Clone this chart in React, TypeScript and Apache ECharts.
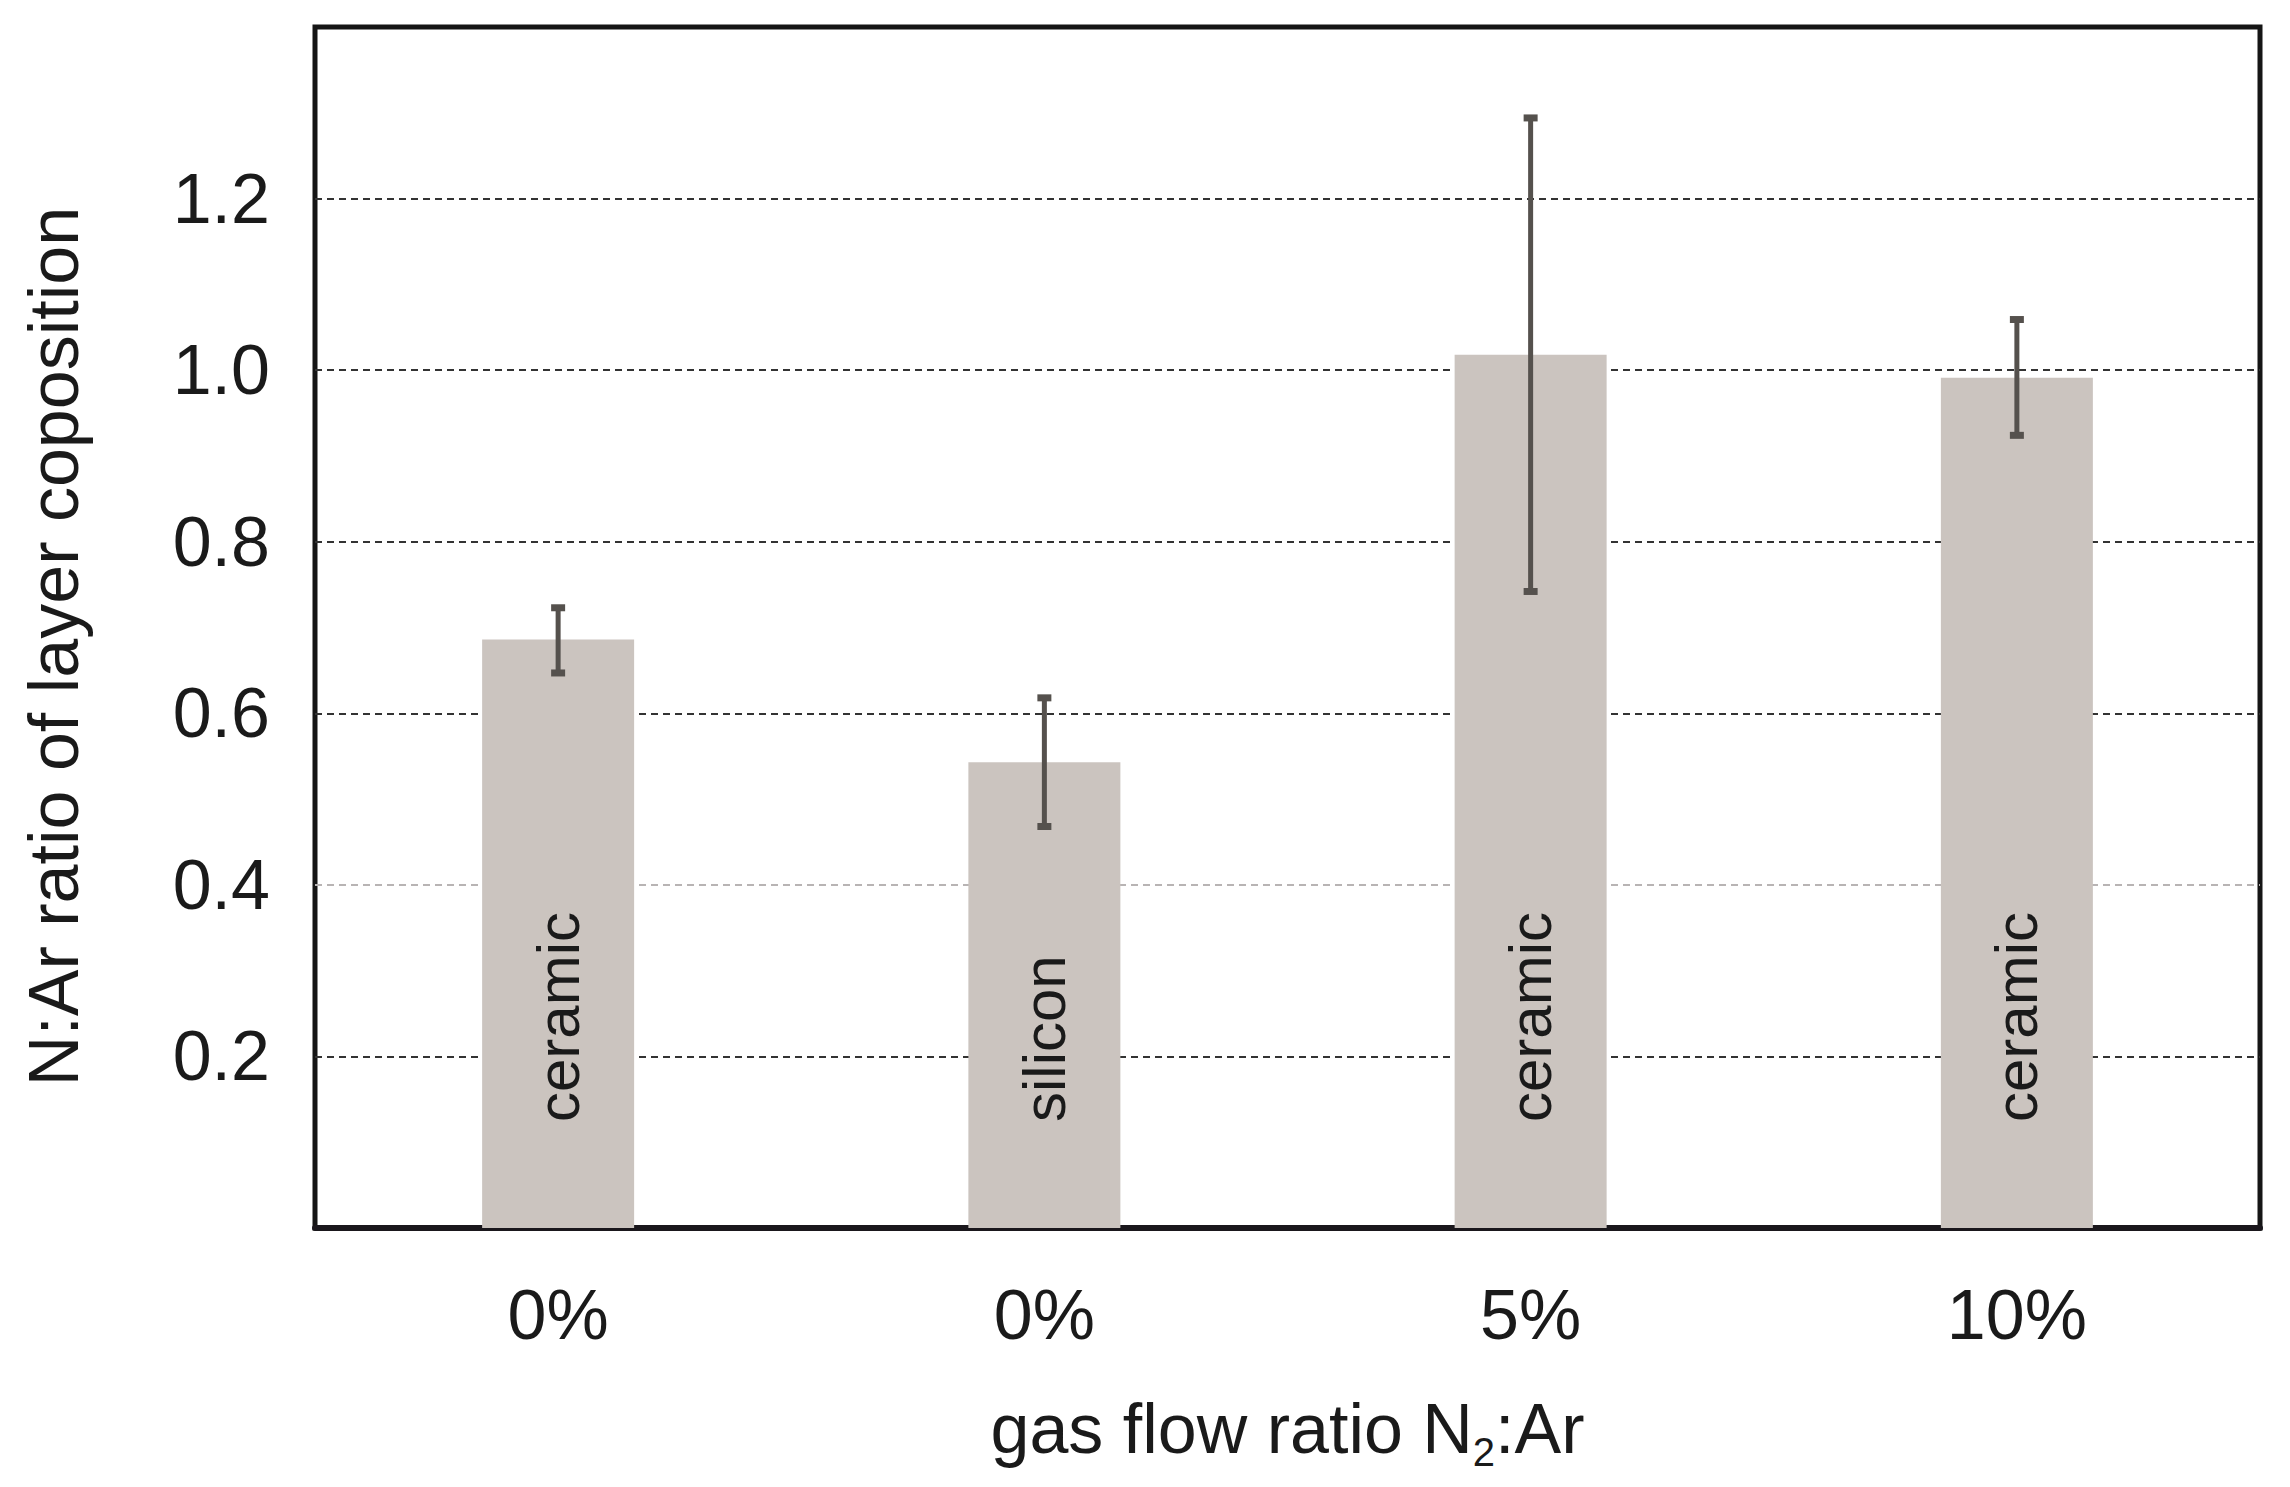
import React, { useEffect, useRef } from "react";
import * as echarts from "echarts";

const categories = ["0%", "0%", "5%", "10%"];
const substrates = ["ceramic", "silicon", "ceramic", "ceramic"];
const ratioValues = [0.686, 0.543, 1.018, 0.991];
const errorLow = [0.647, 0.468, 0.742, 0.924];
const errorHigh = [0.723, 0.618, 1.294, 1.059];
const yMin = 0;
const yMax = 1.4;
const yInterval = 0.2;
const gridLineColors = ["#333333", "#b8b4b4", "#333333", "#333333", "#333333", "#333333"];

const FONT = "'Liberation Sans', Arial, Helvetica, sans-serif";

export default function App() {
  const ref = useRef<HTMLDivElement>(null);
  useEffect(() => {
    if (!ref.current) return;
    const chart = echarts.init(ref.current, null, { renderer: "svg" });
    const errData = categories.map((_, i) => [i, errorLow[i], errorHigh[i]]);
    chart.setOption({
      animation: false,
      backgroundColor: "#ffffff",
      grid: {
        left: 315,
        top: 27,
        right: 30,
        bottom: 259,
        show: true,
        borderColor: "#151515",
        borderWidth: 5,
        backgroundColor: "transparent",
      },
      xAxis: {
        type: "category",
        data: categories,
        axisTick: { show: false },
        axisLine: { show: true, lineStyle: { color: "#1a171c", width: 6 } },
        axisLabel: {
          fontFamily: FONT,
          fontSize: 70,
          color: "#1a1a1a",
          margin: 52,
        },
        name: "{a|gas flow ratio N}{s|2}{a|:Ar}",
        nameLocation: "middle",
        nameGap: 166,
        nameTextStyle: {
          fontFamily: FONT,
          color: "#1a1a1a",
          rich: {
            a: { fontFamily: FONT, fontSize: 70, color: "#1a1a1a", lineHeight: 70 },
            s: { fontFamily: FONT, fontSize: 40, color: "#1a1a1a", verticalAlign: "bottom", lineHeight: 40, padding: [0, 0, -8, 0] },
          },
        },
      },
      yAxis: {
        type: "value",
        min: yMin,
        max: yMax,
        interval: yInterval,
        axisLine: { show: false },
        axisTick: { show: false },
        axisLabel: {
          fontFamily: FONT,
          fontSize: 70,
          color: "#1a1a1a",
          margin: 45,
          showMinLabel: false,
          showMaxLabel: false,
          formatter: (v: number) => v.toFixed(1),
        },
        splitLine: {
          show: true,
          showMinLine: false,
          showMaxLine: false,
          lineStyle: { color: gridLineColors, width: 2, type: [7, 5] },
        },
        name: "N:Ar ratio of layer coposition",
        nameLocation: "middle",
        nameGap: 226,
        nameTextStyle: {
          fontFamily: FONT,
          fontSize: 70,
          color: "#1a1a1a",
          padding: [0, 38, 0, 0],
        },
      },
      series: [
        {
          type: "bar",
          data: ratioValues,
          barWidth: 152,
          itemStyle: { color: "#cbc4bf" },
          label: {
            show: true,
            position: "insideBottom",
            rotate: 90,
            distance: 106,
            align: "left",
            verticalAlign: "middle",
            fontFamily: FONT,
            fontSize: 60,
            color: "#1a1a1a",
            formatter: (p: any) => substrates[p.dataIndex],
          },
          z: 2,
        },
        {
          type: "custom",
          data: errData,
          encode: { x: 0, y: [1, 2] },
          z: 5,
          renderItem: (params: any, api: any) => {
            const x = api.value(0);
            const lo = api.coord([x, api.value(1)]);
            const hi = api.coord([x, api.value(2)]);
            const cw = 7;
            const stroke = "#55514d";
            return {
              type: "group",
              children: [
                { type: "line", shape: { x1: lo[0], y1: lo[1], x2: hi[0], y2: hi[1] }, style: { stroke, lineWidth: 5 } },
                { type: "line", shape: { x1: lo[0] - cw, y1: lo[1], x2: lo[0] + cw, y2: lo[1] }, style: { stroke, lineWidth: 7 } },
                { type: "line", shape: { x1: hi[0] - cw, y1: hi[1], x2: hi[0] + cw, y2: hi[1] }, style: { stroke, lineWidth: 7 } },
              ],
            };
          },
        },
      ],
    });
    return () => chart.dispose();
  }, []);
  return (
    <div
      ref={ref}
      style={{ position: "fixed", left: 0, top: 0, width: 2290, height: 1487, background: "#fff" }}
    />
  );
}
